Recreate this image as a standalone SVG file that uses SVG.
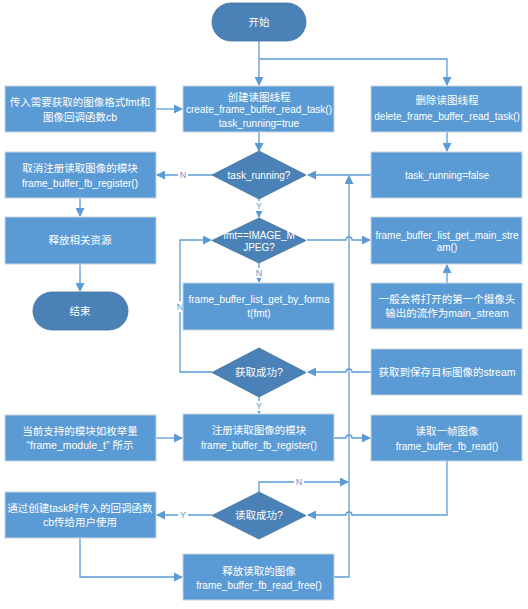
<svg xmlns="http://www.w3.org/2000/svg" width="528" height="609" viewBox="0 0 528 609">
<defs>
<marker id="ah" markerWidth="9" markerHeight="9" refX="8" refY="4.5" orient="auto" markerUnits="userSpaceOnUse">
<path d="M0,0 L9,4.5 L0,9 z" fill="#5b9bd5"/>
</marker>
<style>
.box{fill:#5b9bd5;stroke:#c8d3de;stroke-width:1}
.dk{fill:#4a82b7;stroke:#41719c;stroke-width:0.8}
.t{font-family:"Liberation Sans","Noto Sans CJK SC",sans-serif;font-size:10px;fill:#ffffff;text-anchor:middle}
.c{font-size:10.5px}
.ln{fill:none;stroke:#5b9bd5;stroke-width:1.3}
.lb{font-family:"Liberation Sans",sans-serif;font-size:9px;fill:#5b9bd5;text-anchor:middle}
.bg{fill:#ffffff}
</style>
</defs>
<rect width="528" height="609" fill="#ffffff"/>

<g id="connectors">
<path class="ln" d="M259,41 V85" marker-end="url(#ah)"/>
<path class="ln" d="M259,59 H447 V85" marker-end="url(#ah)"/>
<path class="ln" d="M156,109 H182" marker-end="url(#ah)"/>
<path class="ln" d="M259,132 V151" marker-end="url(#ah)"/>
<path class="ln" d="M447,132 V151" marker-end="url(#ah)"/>
<path class="ln" d="M371,175 H308" marker-end="url(#ah)"/>
<path class="ln" d="M212,175 H157" marker-end="url(#ah)"/>
<path class="ln" d="M80,198 V216" marker-end="url(#ah)"/>
<path class="ln" d="M80,264 V291" marker-end="url(#ah)"/>
<path class="ln" d="M259,199 V217" marker-end="url(#ah)"/>
<path class="ln" d="M307,240 H346 a3,3 0 0 1 6,0 H370" marker-end="url(#ah)"/>
<path class="ln" d="M447,283 V265" marker-end="url(#ah)"/>
<path class="ln" d="M371,372 H352 a3,3 0 0 0 -6,0 H308" marker-end="url(#ah)"/>
<path class="ln" d="M259,263 V282" marker-end="url(#ah)"/>
<path class="ln" d="M212,372 H180 V240 H211" marker-end="url(#ah)"/>
<path class="ln" d="M259,397 V413" marker-end="url(#ah)"/>
<path class="ln" d="M156,438 H182" marker-end="url(#ah)"/>
<path class="ln" d="M334,438 H346 a3,3 0 0 1 6,0 H370" marker-end="url(#ah)"/>
<path class="ln" d="M447,461 V515 H352 a3,3 0 0 0 -6,0 H308" marker-end="url(#ah)"/>
<path class="ln" d="M259,492 V482 H348" marker-end="url(#ah)"/>
<path class="ln" d="M212,515 H157" marker-end="url(#ah)"/>
<path class="ln" d="M80,538 V577 H182" marker-end="url(#ah)"/>
<path class="ln" d="M334,577 H349 V176" marker-end="url(#ah)"/>
<rect class="bg" x="178" y="169" width="10" height="11"/><text class="lb" x="183" y="178">N</text>
<rect class="bg" x="255" y="201" width="8" height="10"/><text class="lb" x="259" y="209">Y</text>
<rect class="bg" x="255" y="268" width="8" height="10"/><text class="lb" x="259" y="276">N</text>
<rect class="bg" x="175" y="301" width="10" height="11"/><text class="lb" x="180" y="310">N</text>
<rect class="bg" x="255" y="401" width="8" height="10"/><text class="lb" x="259" y="409">Y</text>
<rect class="bg" x="294" y="477" width="10" height="10"/><text class="lb" x="299" y="485">N</text>
<rect class="bg" x="178" y="509" width="10" height="11"/><text class="lb" x="183" y="518">Y</text>
</g>

<g id="start"><rect class="dk" x="212" y="3" width="94" height="38" rx="19"/><text class="t c" x="259" y="26">开始</text></g>
<g id="input"><rect class="box" x="5" y="86" width="151" height="46"/><text class="t c" x="80" y="106">传入需要获取的图像格式fmt和</text><text class="t c" x="80" y="121">图像回调函数cb</text></g>
<g id="create"><rect class="box" x="183" y="86" width="151" height="46"/><text class="t c" x="259" y="100.5">创建读图线程</text><text class="t" x="259" y="113">create_frame_buffer_read_task()</text><text class="t" x="259" y="126.5">task_running=true</text></g>
<g id="delete"><rect class="box" x="371" y="86" width="151" height="46"/><text class="t c" x="447" y="104">删除读图线程</text><text class="t" x="447" y="119.5">delete_frame_buffer_read_task()</text></g>
<g id="false"><rect class="box" x="371" y="152" width="151" height="46"/><text class="t" x="447" y="178.5">task_running=false</text></g>
<g id="d1"><path class="dk" d="M259,151 L306,175 L259,199 L212,175 z"/><text class="t" x="259" y="178.5">task_running?</text></g>
<g id="unreg"><rect class="box" x="5" y="152" width="151" height="46"/><text class="t c" x="80" y="172">取消注册读取图像的模块</text><text class="t" x="80" y="186.5">frame_buffer_fb_register()</text></g>
<g id="freeall"><rect class="box" x="5" y="217" width="151" height="47"/><text class="t c" x="80" y="244">释放相关资源</text></g>
<g id="end"><rect class="dk" x="33" y="292" width="95" height="38" rx="19"/><text class="t c" x="80" y="315">结束</text></g>
<g id="d2"><path class="dk" d="M259,218 L306,240.5 L259,263 L212,240.5 z"/><text class="t" x="259" y="238.5">fmt==IMAGE_M</text><text class="t" x="259" y="251">JPEG?</text></g>
<g id="mainstream"><rect class="box" x="371" y="217" width="151" height="47"/><text class="t" x="447" y="238.5">frame_buffer_list_get_main_stre</text><text class="t" x="447" y="250.5">am()</text></g>
<g id="note"><rect class="box" x="371" y="283" width="151" height="46"/><text class="t c" x="447" y="303">一般会将打开的第一个摄像头</text><text class="t c" x="447" y="317">输出的流作为main_stream</text></g>
<g id="getfmt"><rect class="box" x="183" y="283" width="151" height="47"/><text class="t" x="259" y="303">frame_buffer_list_get_by_forma</text><text class="t" x="259" y="316.5">t(fmt)</text></g>
<g id="gotstream"><rect class="box" x="371" y="349" width="151" height="46"/><text class="t c" x="447" y="376">获取到保存目标图像的stream</text></g>
<g id="d3"><path class="dk" d="M259,348 L306,372.5 L259,397 L212,372.5 z"/><text class="t c" x="259" y="376">获取成功?</text></g>
<g id="modnote"><rect class="box" x="5" y="415" width="151" height="46"/><text class="t c" x="80" y="435">当前支持的模块如枚举量</text><text class="t c" x="80" y="448.5">“frame_module_t” 所示</text></g>
<g id="register"><rect class="box" x="183" y="414" width="151" height="47"/><text class="t c" x="259" y="434">注册读取图像的模块</text><text class="t" x="259" y="449">frame_buffer_fb_register()</text></g>
<g id="read"><rect class="box" x="371" y="415" width="151" height="46"/><text class="t c" x="447" y="435">读取一帧图像</text><text class="t" x="447" y="449.5">frame_buffer_fb_read()</text></g>
<g id="d4"><path class="dk" d="M259,492 L306,515.5 L259,539 L212,515.5 z"/><text class="t c" x="259" y="519">读取成功?</text></g>
<g id="callback"><rect class="box" x="5" y="492" width="151" height="46"/><text class="t c" x="80" y="512">通过创建task时传入的回调函数</text><text class="t c" x="80" y="526">cb传给用户使用</text></g>
<g id="release"><rect class="box" x="183" y="554" width="151" height="46"/><text class="t c" x="259" y="575">释放读取的图像</text><text class="t" x="259" y="589">frame_buffer_fb_read_free()</text></g>
</svg>
